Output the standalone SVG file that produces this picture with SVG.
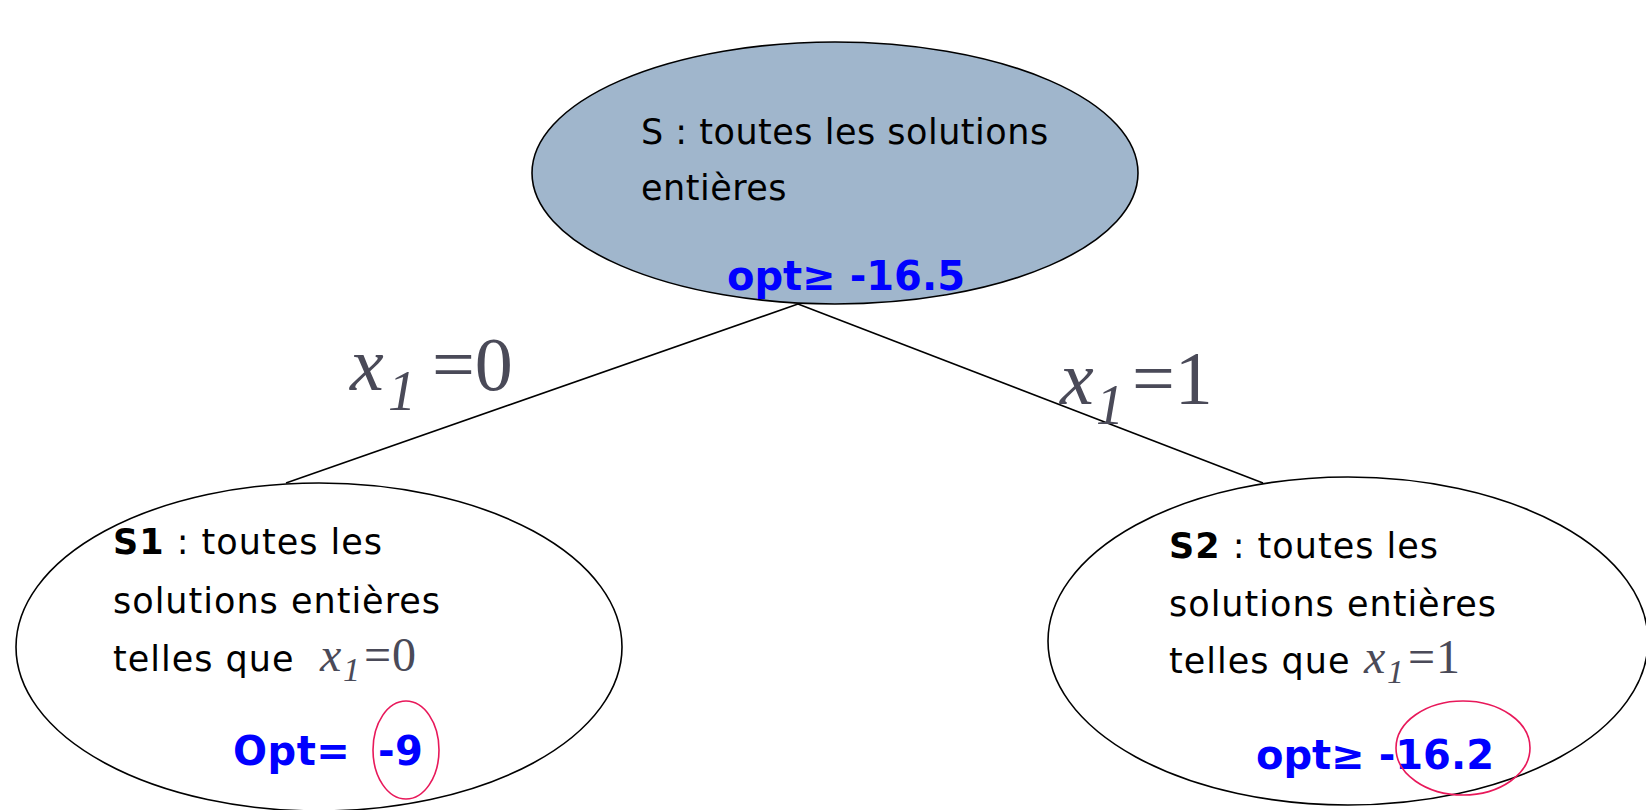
<svg xmlns="http://www.w3.org/2000/svg" width="1646" height="810" viewBox="0 0 1646 810">
<style>
.node{stroke:#000;stroke-width:1.6}
.txt{font-family:"DejaVu Sans","Liberation Sans",sans-serif;font-size:35px;fill:#000}
.b{font-weight:bold}
.blue{font-family:"DejaVu Sans","Liberation Sans",sans-serif;font-weight:bold;font-size:40px;fill:#0000FF}
.math{font-family:"Liberation Serif","DejaVu Serif",serif;fill:#4a4a58}
.it{font-style:italic}
.mark{fill:none;stroke:#E8185A;stroke-width:1.6}
.edge{stroke:#000;stroke-width:1.6;fill:none}
</style>
<rect width="1646" height="810" fill="#fff"/>
<g id="connectors">
<line class="edge" x1="798" y1="304" x2="286" y2="483"/>
<line class="edge" x1="798" y1="304" x2="1263" y2="483"/>
<text class="math" font-size="76" x="350" y="390"><tspan class="it">x</tspan><tspan class="it" font-size="56" x="388" y="410">1</tspan><tspan x="432" y="390">=0</tspan></text>
<text class="math" font-size="76" x="1060" y="404"><tspan class="it">x</tspan><tspan class="it" font-size="56" x="1096" y="424">1</tspan><tspan x="1132" y="404">=1</tspan></text>
</g>
<g id="S">
<ellipse class="node" cx="835" cy="173" rx="303" ry="131" fill="#A0B6CC"/>
<text class="txt" x="641" y="144" letter-spacing="0.5">S : toutes les solutions</text>
<text class="txt" x="641" y="200" letter-spacing="0.5">entières</text>
<text class="blue" x="727" y="290">opt≥ -16.5</text>
</g>
<g id="S1">
<ellipse class="node" cx="319" cy="647" rx="303" ry="164" fill="#fff"/>
<text class="txt" x="113" y="554" letter-spacing="1"><tspan class="b">S1</tspan> : toutes les</text>
<text class="txt" x="113" y="613" letter-spacing="1">solutions entières</text>
<text class="txt" x="113" y="671" letter-spacing="1">telles que <tspan class="math it" font-size="48" x="320">x</tspan><tspan class="math it" font-size="34" x="343" y="681">1</tspan><tspan class="math" font-size="48" x="364" y="671">=0</tspan></text>
<text class="blue" x="233" y="765" letter-spacing="0.5">Opt= <tspan x="378">-9</tspan></text>
<ellipse class="mark" cx="406" cy="750" rx="33" ry="49"/>
</g>
<g id="S2">
<ellipse class="node" cx="1348" cy="641" rx="300" ry="164" fill="#fff"/>
<text class="txt" x="1169" y="558" letter-spacing="1"><tspan class="b">S2</tspan> : toutes les</text>
<text class="txt" x="1169" y="616" letter-spacing="1">solutions entières</text>
<text class="txt" x="1169" y="673" letter-spacing="1">telles que <tspan class="math it" font-size="48" x="1364">x</tspan><tspan class="math it" font-size="34" x="1387" y="683">1</tspan><tspan class="math" font-size="48" x="1408" y="673">=1</tspan></text>
<text class="blue" x="1256" y="769">opt≥ -16.2</text>
<ellipse class="mark" cx="1463" cy="748" rx="67" ry="47"/>
</g>
</svg>
